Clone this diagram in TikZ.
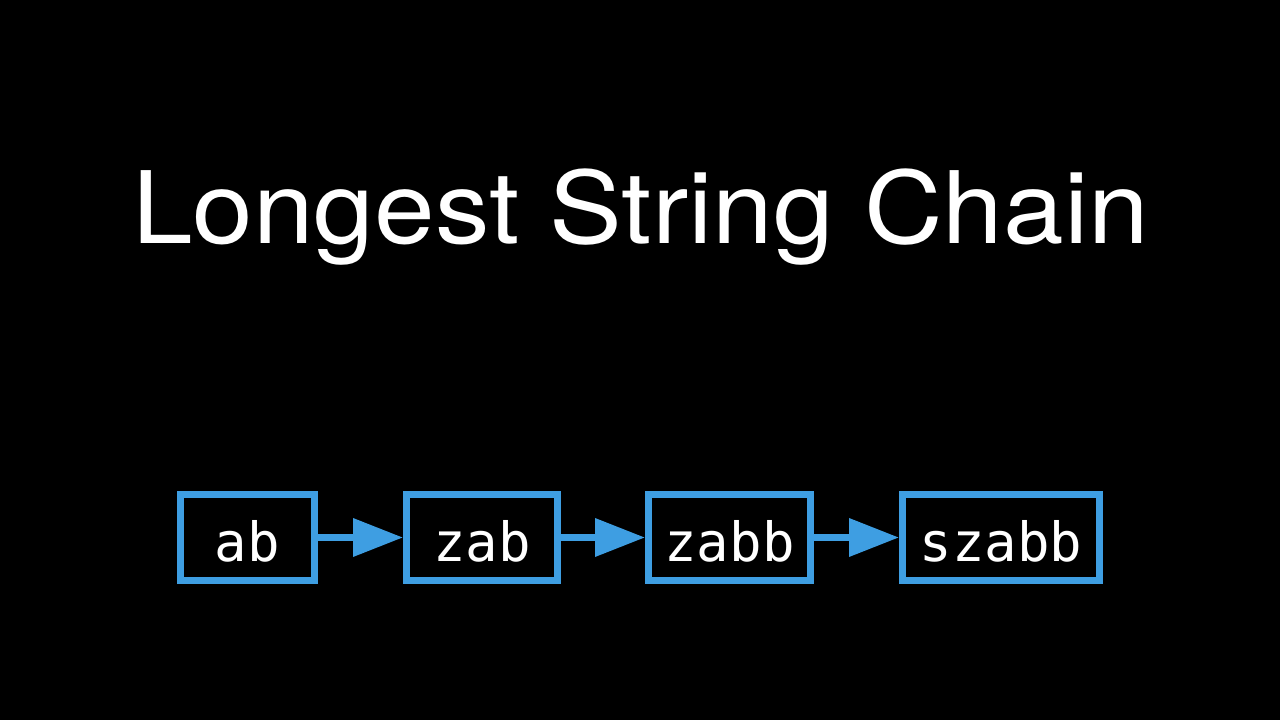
\documentclass[tikz,border=0pt]{standalone}
\usepackage{fontspec}
\setmainfont{TeX Gyre Heros}
\newfontfamily\monof{DejaVu Sans Mono}
\usetikzlibrary{arrows.meta}
\definecolor{chainblue}{RGB}{62,158,226}
\begin{document}
\begin{tikzpicture}[x=1pt,y=1pt,
  box/.style={draw=chainblue,line width=7pt,fill=black,text=white,inner sep=0pt,
    minimum height=86pt,text height=49pt,text depth=0pt,
    font=\monof\fontsize{54}{64}\selectfont},
  link/.style={draw=chainblue,line width=7pt,-{Triangle[length=50pt,width=37pt]}}]
\fill[black] (0,0) rectangle (1280,720);
\useasboundingbox (0,0) rectangle (1280,720);
\node[text=white,anchor=base,font=\fontsize{100}{120}\selectfont] (title) at (640.5,476) {\scalebox{1.09}[1]{Longest String Chain}};
\node[box,minimum width=134pt] (b1) at (247.5,182.5) {ab};
\node[box,minimum width=151pt] (b2) at (482,182.5) {zab};
\node[box,minimum width=162pt] (b3) at (729.5,182.5) {zabb};
\node[box,minimum width=197pt] (b4) at (1001,182.5) {szabb};
\draw[link] (b1) -- (b2);
\draw[link] (b2) -- (b3);
\draw[link] (b3) -- (b4);
\end{tikzpicture}
\end{document}
